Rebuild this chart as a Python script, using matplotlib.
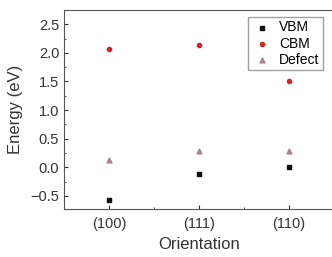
import matplotlib
matplotlib.use("Agg")
import matplotlib.pyplot as plt
from matplotlib.ticker import MultipleLocator

orientations = ["(100)", "(111)", "(110)"]
vbm = [-0.58, -0.12, 0.01]
cbm = [2.06, 2.13, 1.50]
defect = [0.12, 0.28, 0.29]

plt.rcParams['font.family'] = ['Liberation Sans', 'DejaVu Sans']
fig = plt.figure(figsize=(3.32, 2.57), dpi=100)
ax = fig.add_axes([0.193, 0.187, 0.813, 0.774])
x = list(range(len(orientations)))
ax.scatter(x, vbm, marker='s', s=7, color='#111111', label='VBM', zorder=3)
ax.scatter(x, cbm, marker='o', s=9, color='#e02020', label='CBM', zorder=3)
ax.scatter(x, defect, marker='^', s=12, color='#a08888', label='Defect', zorder=3)

ax.set_xlim(-0.5, 2.5)
ax.set_ylim(-0.73, 2.75)
ax.set_xticks(x)
ax.set_xticklabels(orientations)
ax.xaxis.set_minor_locator(MultipleLocator(0.5))
ax.yaxis.set_major_locator(MultipleLocator(0.5))
ax.yaxis.set_minor_locator(MultipleLocator(0.25))
ax.tick_params(which='both', direction='in', labelsize=10.5, colors='#333333')
ax.tick_params(axis='x', pad=6)
ax.tick_params(which='major', length=3)
ax.tick_params(which='minor', length=1.5)
for s in ax.spines.values():
    s.set_color('#555555')
ax.spines['right'].set_visible(False)
ax.set_xlabel('Orientation', fontsize=12, color='#333333', labelpad=4)
ax.set_ylabel('Energy (eV)', fontsize=12, color='#333333', labelpad=5)
leg = ax.legend(loc='upper right', bbox_to_anchor=(0.985, 1.0), fontsize=10,
                frameon=True, fancybox=False,
                edgecolor='#888888', handletextpad=0.5, borderpad=0.25,
                labelspacing=0.15, handlelength=1.5, markerscale=1.0)
fig.savefig('out.png', dpi=100)
